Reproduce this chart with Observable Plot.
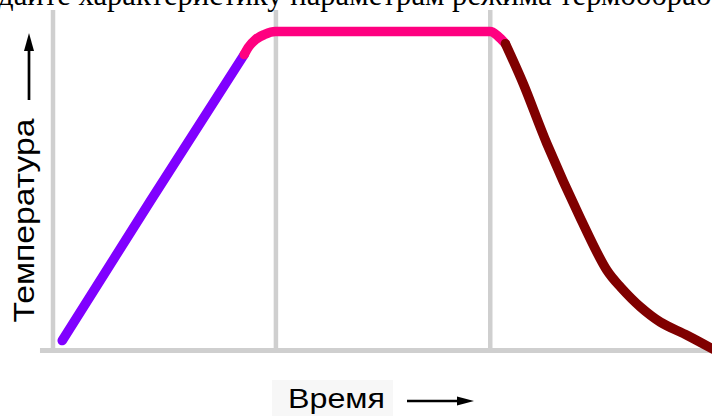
<!DOCTYPE html>
<html><head><meta charset="utf-8">
<script src="https://cdn.jsdelivr.net/npm/d3@7"></script>
<script src="https://cdn.jsdelivr.net/npm/@observablehq/plot@0.6"></script>
<style>html,body{margin:0;padding:0;background:#fff;overflow:hidden}</style>
</head><body><div id="chart"></div>
<script>
// Stages of the heat-treatment cycle
const segments = ["Нагрев", "Выдержка", "Охлаждение"];
const segmentColors = ["#8000ff", "#ff0080", "#800000"];
const segmentCurves = ["linear", "monotone-x", "catmull-rom"];
// Heating
const heatTime = [1.4, 14.8, 29.0];
const heatTemp = [3.1, 47.0, 92.8];
// Holding
const holdTime = [29.0, 29.6, 30.7, 32.1, 33.7, 66.3, 67.4, 68.6];
const holdTemp = [92.8, 95.0, 97.5, 99.1, 100, 100, 98.7, 96.2];
// Cooling
const coolTime = [68.6, 71.3, 74.9, 79.9, 84.0, 86.1, 89.1, 92.1, 96.2, 100];
const coolTemp = [96.2, 83.7, 64.8, 41.8, 25.1, 19.8, 13.6, 8.9, 4.7, 0.5];
// Vertical guide lines (time)
const gridTimes = [0, 33.8, 66.3];
const titleText = "дайте характеристику параметрам режима термообработки";
const xLabel = "Время";
const yLabel = "Температура";

const series = [[heatTime, heatTemp], [holdTime, holdTemp], [coolTime, coolTemp]].map(([ts, vs], i) =>
  ts.map((t, j) => ({segment: segments[i], time: t, temp: vs[j]})));

const yMax = 106.6;
const plot = Plot.plot({
  width: 712, height: 416,
  marginLeft: 52.5, marginRight: 0, marginTop: 10, marginBottom: 66,
  x: {domain: [0, 100], axis: null},
  y: {domain: [0, yMax], axis: null},
  color: {domain: segments, range: segmentColors},
  style: {background: "#fff", fontFamily: "'Liberation Sans', Arial, sans-serif"},
  marks: [
    Plot.ruleX(gridTimes, {y1: 0, y2: yMax, stroke: "#cfcfcf", strokeWidth: 4.5}),
    Plot.ruleY([0], {x1: -1.9, x2: 100, stroke: "#cfcfcf", strokeWidth: 5}),
    ...series.map((data, i) => Plot.line(data, {x: "time", y: "temp", stroke: "segment", strokeWidth: 9.5,
      curve: segmentCurves[i], strokeLinecap: "round", strokeLinejoin: "round"})),
    Plot.text([titleText], {frameAnchor: "top-left", textAnchor: "start", lineAnchor: "bottom",
      dx: -54.9, dy: -5.5, fontFamily: "'Liberation Serif', serif", fontSize: 30.7, fill: "#000"}),
    Plot.text([yLabel], {frameAnchor: "left", rotate: -90, textAnchor: "middle", lineAnchor: "middle",
      dx: -28, dy: 40, fontSize: 29, fill: "#000"}),
    Plot.text([xLabel], {frameAnchor: "bottom", textAnchor: "middle", lineAnchor: "bottom",
      dx: -46.25, dy: 57, fontSize: 28, fill: "#000"})
  ]
});
document.getElementById("chart").appendChild(plot);

const svg = d3.select(plot);
svg.selectAll("text").filter(function () { return this.textContent === yLabel; })
  .attr("textLength", 204).attr("lengthAdjust", "spacingAndGlyphs");
svg.selectAll("text").filter(function () { return this.textContent === xLabel; })
  .attr("textLength", 97).attr("lengthAdjust", "spacingAndGlyphs");

// light box behind the x label
svg.insert("rect", ":first-child").attr("x", 272).attr("y", 380).attr("width", 121).attr("height", 36).attr("fill", "#f7f7f7");
// axis-label arrows
const deco = svg.append("g").attr("fill", "#000").attr("stroke", "#000");
deco.append("line").attr("x1", 29).attr("y1", 100).attr("x2", 29).attr("y2", 45).attr("stroke-width", 2.7);
deco.append("path").attr("d", "M29,33L24,51L34,51Z").attr("stroke", "none");
deco.append("line").attr("x1", 407).attr("y1", 401).attr("x2", 462).attr("y2", 401).attr("stroke-width", 2.7);
deco.append("path").attr("d", "M474,401L457,396.5L457,405.5Z").attr("stroke", "none");
</script>
</body></html>
